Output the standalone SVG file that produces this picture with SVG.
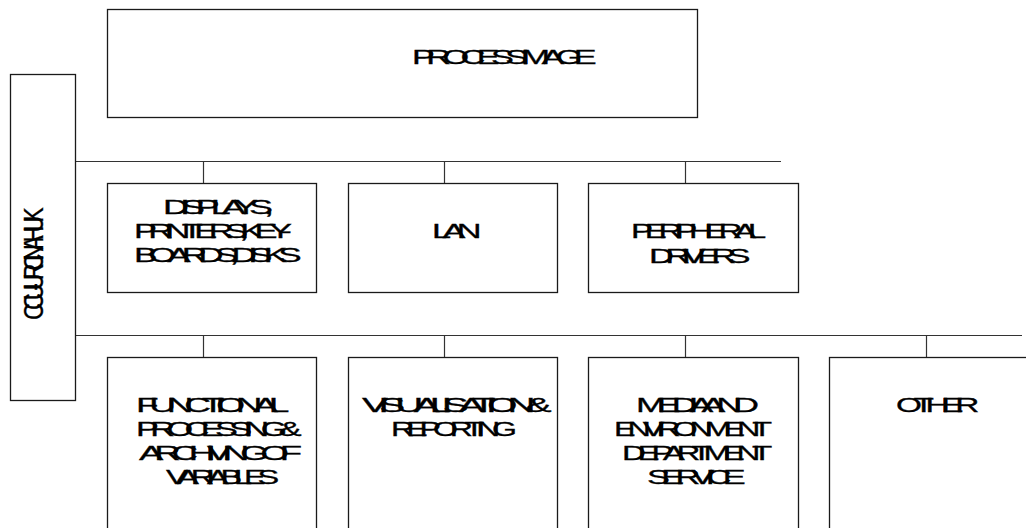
<svg xmlns="http://www.w3.org/2000/svg" width="1026" height="528" viewBox="0 0 1026 528">
<style>
.box{fill:#fff;stroke:#1a1a1a;stroke-width:1.3}
.ln{fill:none;stroke:#333;stroke-width:1.2}
.t{font-family:"Liberation Sans",Arial,sans-serif;font-size:20px;fill:#000;letter-spacing:-5px;stroke:#000;stroke-width:0.3}
.v{font-size:27px;letter-spacing:-8px}
</style>
<rect width="1026" height="528" fill="#fff"/>
<g id="connectors">
<line class="ln" x1="75" y1="161.5" x2="781" y2="161.5"/>
<line class="ln" x1="203.5" y1="161.5" x2="203.5" y2="183"/>
<line class="ln" x1="444.5" y1="161.5" x2="444.5" y2="183"/>
<line class="ln" x1="685.5" y1="161.5" x2="685.5" y2="183"/>
<line class="ln" x1="75" y1="335.5" x2="1022" y2="335.5"/>
<line class="ln" x1="203.5" y1="335.5" x2="203.5" y2="357"/>
<line class="ln" x1="444.5" y1="335.5" x2="444.5" y2="357"/>
<line class="ln" x1="685.5" y1="335.5" x2="685.5" y2="357"/>
<line class="ln" x1="926.5" y1="335.5" x2="926.5" y2="357"/>
</g>
<g id="process-image">
<rect class="box" x="107.5" y="9.5" width="590" height="108"/>
<text class="t" x="412" y="64" textLength="176" lengthAdjust="spacingAndGlyphs">PROCESS IMAGE</text>
</g>
<g id="ccu">
<rect class="box" x="10.5" y="74.5" width="65" height="326"/>
<text class="t v" transform="translate(43,320) rotate(-90)" x="0" y="0" textLength="106" lengthAdjust="spacingAndGlyphs">CCU - URCINAHUK</text>
</g>
<g id="displays">
<rect class="box" x="107.5" y="183.5" width="209" height="109"/>
<text class="t" x="163" y="214" textLength="102" lengthAdjust="spacingAndGlyphs">DISPLAYS,</text>
<text class="t" x="134" y="238" textLength="149" lengthAdjust="spacingAndGlyphs">PRINTERS,KEY-</text>
<text class="t" x="134" y="262" textLength="159" lengthAdjust="spacingAndGlyphs">BOARDS, DISKS</text>
</g>
<g id="lan">
<rect class="box" x="348.5" y="183.5" width="209" height="109"/>
<text class="t" x="432" y="238" textLength="41" lengthAdjust="spacingAndGlyphs">LAN</text>
</g>
<g id="peripheral">
<rect class="box" x="588.5" y="183.5" width="210" height="109"/>
<text class="t" x="631" y="238" textLength="127" lengthAdjust="spacingAndGlyphs">PERIPHERAL</text>
<text class="t" x="649" y="263" textLength="93" lengthAdjust="spacingAndGlyphs">DRIVERS</text>
</g>
<g id="functional">
<rect class="box" x="107.5" y="357.5" width="209" height="190"/>
<text class="t" x="136" y="412" textLength="144" lengthAdjust="spacingAndGlyphs">FUNCTIONAL</text>
<text class="t" x="136" y="436" textLength="157" lengthAdjust="spacingAndGlyphs">PROCESSING&amp;</text>
<text class="t" x="139" y="460" textLength="154" lengthAdjust="spacingAndGlyphs">ARCHIVING OF</text>
<text class="t" x="166" y="484" textLength="105" lengthAdjust="spacingAndGlyphs">VARIABLES</text>
</g>
<g id="visualisation">
<rect class="box" x="348.5" y="357.5" width="209" height="190"/>
<text class="t" x="362" y="412" textLength="180" lengthAdjust="spacingAndGlyphs">VISUALISATION&amp;</text>
<text class="t" x="391" y="436" textLength="118" lengthAdjust="spacingAndGlyphs">REPORTING</text>
</g>
<g id="media">
<rect class="box" x="588.5" y="357.5" width="210" height="190"/>
<text class="t" x="636" y="412" textLength="114" lengthAdjust="spacingAndGlyphs">MEDIA AND</text>
<text class="t" x="614" y="436" textLength="150" lengthAdjust="spacingAndGlyphs">ENVIRONMENT</text>
<text class="t" x="622" y="460" textLength="142" lengthAdjust="spacingAndGlyphs">DEPARTMENT</text>
<text class="t" x="647" y="484" textLength="90" lengthAdjust="spacingAndGlyphs">SERVICE</text>
</g>
<g id="other">
<rect class="box" x="829.5" y="357.5" width="220" height="190"/>
<text class="t" x="896" y="412" textLength="75" lengthAdjust="spacingAndGlyphs">OTHER</text>
</g>
</svg>
